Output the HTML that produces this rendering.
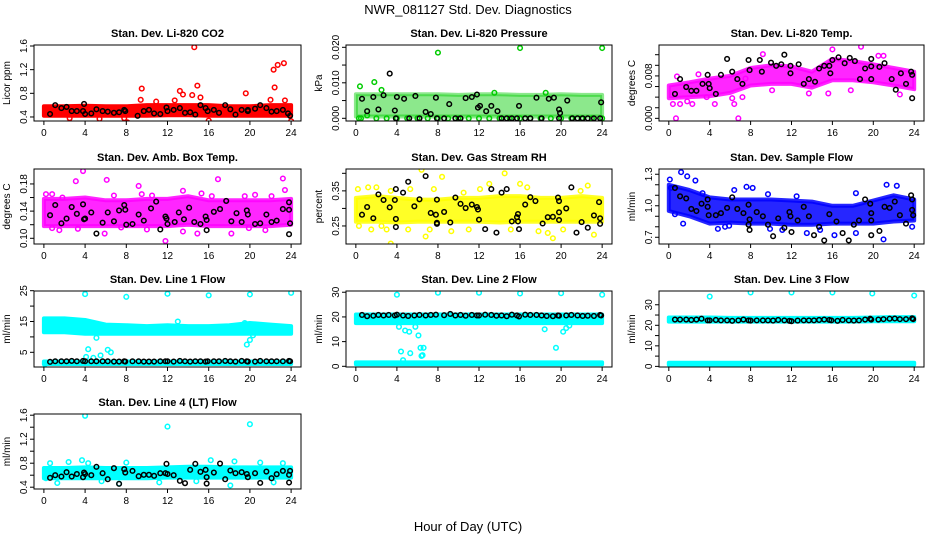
<!DOCTYPE html>
<html><head><meta charset="utf-8">
<style>
html,body{margin:0;padding:0;background:#fff;}
svg{display:block;font-family:"Liberation Sans",sans-serif;}
</style></head>
<body>
<svg id="chart" width="936" height="540" viewBox="0 0 936 540">
<text x="468" y="14" text-anchor="middle" font-size="13">NWR_081127  Std. Dev. Diagnostics</text>
<text x="468" y="531" text-anchor="middle" font-size="13">Hour of Day (UTC)</text>
</svg>
<script>
// ---- data arrays ----
const hours = [0,2,4,6,8,10,12,14,16,18,20,22,24];
const xTicks = [0,4,8,12,16,20,24];

// Panel 1 CO2
const co2BandLo = [0.42,0.42,0.42,0.42,0.42,0.42,0.43,0.43,0.42,0.42,0.42,0.42,0.42];
const co2BandHi = [0.58,0.58,0.59,0.58,0.58,0.60,0.60,0.60,0.60,0.58,0.58,0.60,0.60];
const co2Color = [[14.6,1.58],[22.3,1.2],[22.7,1.28],[23.3,1.31],[22.4,0.9],[14.9,0.93],[9.5,0.88],[13.2,0.84],[13.5,0.78],[19.6,0.8],[14.4,0.77],[15.2,0.73],[9.4,0.69],[12.7,0.68],[22,0.69],[23.4,0.68],[8.1,0.31],[16,0.34],[24,0.33],[7.8,0.38],[10.9,0.66],[0.2,0.5],[2.5,0.38],[5.4,0.37]];
const co2Black = [[0.6,0.45],[1.1,0.6],[1.7,0.55],[2.2,0.57],[2.7,0.5],[3.2,0.5],[3.8,0.5],[3.9,0.62],[4,0.45],[4.6,0.46],[5.1,0.53],[5.7,0.5],[6.2,0.49],[6.8,0.47],[7.3,0.48],[7.8,0.52],[7.9,0.5],[9.1,0.42],[9.7,0.5],[10.2,0.52],[10.7,0.46],[11.3,0.45],[11.9,0.56],[12,0.5],[12.6,0.52],[13.2,0.55],[13.7,0.47],[14.2,0.48],[14.7,0.44],[15.2,0.6],[15.7,0.55],[15.9,0.5],[16.5,0.52],[17,0.47],[17.6,0.6],[18.1,0.53],[18.6,0.44],[19.2,0.52],[19.8,0.5],[19.8,0.52],[20.5,0.54],[21,0.6],[21.6,0.55],[22.1,0.49],[22.6,0.5],[23.2,0.52],[23.7,0.46],[23.9,0.42]];

// Panel 2 Pressure
const prBandLo = [0.0005,0.0005,0.0005,0.0005,0.0005,0.0005,0.0005,0.0005,0.0005,0.0005,0.0005,0.0005,0.0005];
const prBandHi = [0.0068,0.0068,0.0068,0.0068,0.0068,0.0066,0.0068,0.0068,0.0066,0.0066,0.0068,0.0066,0.0066];
const prColor = [[8,0.0185],[16,0.0198],[24,0.0198],[1.8,0.0102],[0.4,0.009],[0.3,0],[0.5,0],[1.1,0.0008],[2,0],[3,0],[4,0],[5,0],[6,0],[7,0],[8,0],[9,0],[10,0],[11,0],[12,0],[13,0],[14,0],[15,0],[16,0],[17,0],[18,0],[19,0],[20,0],[21,0],[22,0],[23,0],[24,0],[2.5,0.008],[13.5,0.0072],[18.5,0.0072]];
const prBlack = [[3.3,0.0126],[0.6,0.0055],[1.1,0.002],[1.7,0.006],[2.2,0.0025],[2.7,0.0065],[3.8,0.0022],[4,0.006],[4.7,0.0055],[5.8,0.0063],[6.8,0.0018],[7.3,0.0012],[7.8,0.0058],[9.1,0.004],[10.7,0.0057],[11.3,0.006],[11.8,0.0067],[11.9,0.003],[12.1,0.0035],[12.7,0.002],[13.2,0.0035],[13.8,0.002],[15.9,0.0035],[17.6,0.0058],[18.8,0.0055],[19.3,0.0058],[19.8,0.0025],[19.9,0.0015],[20.6,0.005],[23.9,0.0045],[3.9,0],[5.2,0],[6.2,0],[7.9,0],[8.6,0],[9.7,0],[10.2,0],[14.2,0],[14.7,0],[15.2,0],[15.7,0],[16.5,0],[17,0],[18.1,0],[19.8,0],[21.1,0],[21.6,0],[22.1,0],[22.6,0],[23.2,0],[23.8,0]];

// Panel 3 Li-820 Temp
const tpBandLo = [0.0038,0.0040,0.0042,0.0048,0.0062,0.0065,0.0065,0.0058,0.0072,0.0072,0.0068,0.0062,0.0055];
const tpBandHi = [0.0062,0.0068,0.0075,0.0080,0.0095,0.0100,0.0098,0.0088,0.0112,0.0108,0.0102,0.0095,0.0088];
const tpColor = [[0.7,0.0],[6.8,0.0],[0.4,0.0027],[4.5,0.0027],[6.4,0.0027],[1.1,0.0027],[18.8,0.0135],[16,0.013],[10.1,0.0053],[17.8,0.0053],[1.8,0.0032],[2.3,0.0027],[3.7,0.004],[6.2,0.0038],[7.2,0.004],[7.5,0.0075],[20.5,0.0118],[21,0.0118],[22.6,0.0045],[13.7,0.0047],[15.6,0.0047],[0.8,0.0079],[2.9,0.0083],[9.2,0.0121]];
const tpBlack = [[0.6,0.0046],[1.1,0.0074],[1.7,0.0059],[2.2,0.0052],[2.7,0.0052],[3.3,0.0065],[3.8,0.0082],[3.9,0.0065],[4,0.0057],[4.6,0.0046],[5.1,0.0082],[5.7,0.0112],[6.2,0.0088],[6.7,0.0074],[7.2,0.0065],[7.8,0.011],[7.9,0.0091],[8.9,0.011],[9.1,0.0088],[10,0.0105],[10.5,0.0099],[11,0.0102],[11.3,0.012],[11.9,0.0099],[11.9,0.0085],[12.7,0.0102],[13.2,0.0065],[13.7,0.0074],[14.3,0.0069],[14.7,0.0094],[15.2,0.0099],[15.7,0.0099],[15.8,0.0085],[16,0.011],[16.6,0.0115],[17.2,0.0104],[17.7,0.0114],[18.2,0.0108],[18.7,0.0074],[19.2,0.0094],[19.8,0.0112],[19.8,0.0098],[19.8,0.0074],[20.6,0.0097],[21.1,0.0104],[21.8,0.0074],[22.2,0.0054],[22.7,0.0085],[23.2,0.0065],[23.7,0.0088],[23.8,0.0082],[23.8,0.0038]];

// Panel 4 Amb. Box Temp
const abBandLo = [0.118,0.118,0.118,0.118,0.118,0.118,0.118,0.12,0.118,0.118,0.118,0.118,0.12];
const abBandHi = [0.158,0.158,0.16,0.156,0.156,0.158,0.158,0.162,0.156,0.156,0.156,0.156,0.158];
const abColor = [[3.8,0.199],[3.1,0.184],[6.1,0.186],[9.2,0.177],[16.9,0.187],[23.2,0.188],[11.8,0.096],[0.2,0.165],[0.8,0.165],[1.8,0.16],[10.5,0.163],[13.5,0.17],[15.3,0.166],[20.5,0.164],[22.1,0.162],[23.4,0.171],[0.8,0.115],[3.3,0.114],[5.9,0.107],[7.5,0.116],[10,0.113],[13.5,0.11],[14.9,0.107],[18.2,0.107],[21.5,0.112],[9.5,0.165],[6.8,0.163],[16.3,0.162],[19.5,0.162],[1.5,0.112],[19.9,0.115]];
const abBlack = [[0.6,0.134],[1.1,0.149],[1.7,0.122],[2.2,0.129],[2.7,0.146],[3.2,0.136],[3.8,0.150],[3.9,0.128],[4,0.129],[4.6,0.138],[5.1,0.107],[5.7,0.123],[6.2,0.138],[6.8,0.125],[7.3,0.141],[7.8,0.149],[7.9,0.142],[8,0.120],[8.6,0.121],[9.2,0.135],[9.7,0.126],[10.4,0.144],[10.9,0.154],[11.3,0.113],[11.8,0.132],[11.9,0.129],[12,0.121],[12.7,0.124],[13.1,0.138],[13.6,0.128],[14.1,0.145],[14.6,0.124],[15.2,0.121],[15.7,0.132],[15.8,0.112],[15.8,0.127],[16.5,0.139],[17.1,0.143],[17.7,0.155],[18.2,0.125],[18.7,0.137],[19.2,0.124],[19.7,0.141],[19.8,0.135],[20.5,0.121],[21,0.122],[21.6,0.135],[22.1,0.124],[22.6,0.126],[23.2,0.143],[23.8,0.153],[23.8,0.142],[23.9,0.122],[23.8,0.106]];

// Panel 5 Gas Stream RH
const rhBandLo = [0.262,0.262,0.26,0.262,0.262,0.262,0.262,0.26,0.262,0.262,0.262,0.262,0.262];
const rhBandHi = [0.33,0.335,0.33,0.325,0.325,0.33,0.33,0.335,0.335,0.33,0.33,0.335,0.33];
const rhColor = [[6.4,0.41],[3.4,0.2],[8.4,0.39],[14.5,0.4],[0.2,0.355],[2,0.36],[6.8,0.22],[19.2,0.215],[23.2,0.225],[16,0.37],[22.6,0.365],[13,0.37],[0.3,0.25],[1.5,0.24],[5.1,0.24],[9.3,0.235],[11,0.24],[17.8,0.235],[18.7,0.23],[3,0.24],[10.5,0.345],[21.9,0.35],[1.2,0.36],[3.4,0.35],[5.3,0.355],[7.6,0.355],[16.7,0.36],[12.1,0.355],[20.2,0.24],[15.1,0.24],[2.5,0.25],[7.2,0.24]];
const rhBlack = [[0.6,0.282],[1.1,0.304],[1.7,0.272],[2.2,0.34],[2.7,0.324],[3.3,0.303],[3.8,0.324],[3.9,0.355],[3.9,0.27],[3.9,0.247],[4.6,0.345],[5.1,0.376],[5.7,0.306],[6.2,0.326],[6.8,0.392],[7.3,0.287],[7.8,0.282],[7.9,0.259],[7.9,0.256],[7.9,0.325],[8.6,0.29],[9.2,0.26],[9.7,0.331],[10.2,0.313],[10.7,0.301],[11.3,0.311],[11.8,0.304],[11.9,0.297],[12,0.268],[12.6,0.241],[13.2,0.355],[13.7,0.231],[14.2,0.345],[14.7,0.355],[15.2,0.263],[15.7,0.275],[15.8,0.284],[15.8,0.263],[15.9,0.241],[16.5,0.311],[17,0.332],[17.5,0.321],[18.2,0.257],[18.7,0.275],[19.2,0.276],[19.7,0.331],[19.8,0.321],[19.8,0.267],[19.8,0.289],[20.5,0.3],[21,0.36],[21.5,0.231],[22,0.261],[22.6,0.245],[23.2,0.28],[23.7,0.318],[23.8,0.272],[23.8,0.256]];

// Panel 6 Sample Flow
const sfBandLo = [0.95,0.9,0.83,0.84,0.83,0.83,0.82,0.82,0.83,0.83,0.83,0.85,0.86];
const sfBandHi = [1.2,1.15,1.08,1.06,1.06,1.06,1.05,1.04,1.0,1.0,1.05,1.1,1.06];
const sfColor = [[1.2,1.32],[0.1,1.25],[1.8,1.28],[2.6,1.24],[7.6,1.18],[8.2,1.17],[21.3,1.2],[22.3,1.19],[0.6,0.92],[1.4,0.83],[4.8,0.78],[21,0.68],[11.1,0.77],[13.5,0.74],[23.8,0.8],[16.2,0.72],[5.5,0.8],[0.2,1.17],[3.3,1.12],[6.4,1.15],[9.7,1.11],[12.5,1.09],[18.3,1.12],[5.9,0.81],[9.9,0.78],[18.3,0.74],[14.8,0.77]];
const sfBlack = [[0.6,1.17],[1.1,1.09],[1.7,1.07],[2.2,0.97],[2.7,0.95],[3.2,1.02],[3.8,1.06],[3.8,0.99],[3.9,0.91],[4.6,0.91],[5.1,0.93],[5.7,0.98],[6.2,1.08],[6.7,0.97],[7.3,0.93],[7.8,1.01],[7.9,0.87],[7.8,0.82],[7.9,0.77],[8.6,0.94],[9.2,0.9],[9.7,0.82],[10.2,0.71],[10.7,0.88],[11.3,0.79],[11.8,0.94],[11.9,0.9],[12,0.75],[12.6,0.86],[13.2,0.99],[13.7,0.9],[14.2,0.72],[14.7,0.8],[15.2,0.67],[15.7,0.92],[16.4,0.85],[17,0.74],[17.6,0.67],[18.1,0.82],[18.6,0.86],[19.2,1.06],[19.7,1.02],[19.8,0.93],[19.8,0.86],[19.8,0.72],[20.6,0.76],[21.1,0.99],[21.6,0.98],[22.1,1.04],[22.6,0.91],[23.2,0.83],[23.7,1.1],[23.8,1.06],[23.8,0.96],[23.9,0.91]];

// Panel 7 Line 1 Flow
const l1BandLo = [11.5,11.5,11,11,11,11,11,11,11,11,11,11,11];
const l1BandHi = [16,16,15.5,14,13.8,13.5,13.8,13.5,13.5,13.8,14.5,14,13.5];
const l1LineLo = [1.2,1.2,1.2,1.2,1.2,1.2,1.2,1.2,1.2,1.2,1.2,1.2,1.2];
const l1LineHi = [2,2,2,2,2,2,2,2,2,2,2,2,2];
const l1Color = [[4,23.9],[8,23],[12,24],[16,23.5],[20,23.8],[24,24.3],[4.3,6],[6.2,5.8],[6.5,5],[4.1,3.5],[4.8,3.2],[5.5,4],[19.7,7.5],[20,9],[20.3,10.5],[5.1,9.7],[0.1,1.2],[13,15],[19.5,14.5]];
const l1Black = [[0.6,1.9],[1.1,2.1],[1.7,2.1],[2.2,2.1],[2.7,2.2],[3.2,2.1],[3.8,2.2],[4,2.1],[4.6,2.1],[5.1,2.1],[5.7,2.1],[6.2,2.1],[6.8,2.0],[7.3,2.0],[7.8,2.1],[7.9,2.0],[8.6,2.1],[9.2,2.1],[9.7,2.0],[10.2,2.0],[10.7,2.0],[11.3,2.1],[11.8,2.1],[12,2.1],[12.6,2.0],[13.2,2.2],[13.7,2.1],[14.2,2.0],[14.7,2.1],[15.2,2.1],[15.7,2.0],[15.9,2.1],[16.5,2.1],[17,2.1],[17.6,2.2],[18.1,2.1],[18.6,2.0],[19.2,2.2],[19.7,2.1],[19.8,2.0],[20.5,2.0],[21,2.2],[21.6,2.1],[22.1,2.1],[22.6,2.1],[23.2,2.1],[23.8,2.2],[23.9,2.1]];

// Panel 8 Line 2 Flow
const l2BandLo = [17.5,17.5,17.5,17.5,17.5,17.5,17.5,17.5,17.5,17.5,17.5,17.5,17.5];
const l2BandHi = [21,21,21,21,21,21,21,21,21,21,21,21,21];
const l2LineLo = [0.8,0.8,0.8,0.8,0.8,0.8,0.8,0.8,0.8,0.8,0.8,0.8,0.8];
const l2LineHi = [1.6,1.6,1.6,1.6,1.6,1.6,1.6,1.6,1.6,1.6,1.6,1.6,1.6];
const l2Color = [[4,29],[8,29.8],[12,29.8],[16,29.5],[20,29.6],[24,29],[4.2,16],[4.8,14.5],[5.2,14],[5.8,16],[6.1,12.5],[6.3,7.5],[6.5,4.5],[4.4,6],[5.3,5.3],[4.6,2.5],[18.4,15],[19.5,7.5],[20.2,14],[20.5,15.5],[20.8,16.5],[4.1,18.5],[4.6,18.8],[6.6,7.5],[6.4,4.2]];
const l2Black = [[0.6,20.8],[1.1,20.3],[1.7,20.5],[2.2,20.8],[2.7,20.6],[3.2,20.8],[3.8,20.6],[4,20.9],[4.6,20.6],[5.1,20.4],[5.7,20.6],[6.2,20.8],[6.8,20.6],[7.3,20.8],[7.8,20.9],[8.6,20.7],[9.2,21.2],[9.7,20.6],[10.2,20.8],[10.7,20.5],[11.3,20.8],[11.8,20.6],[12,20.6],[12.6,20.9],[13.2,20.8],[13.7,20.5],[14.2,20.6],[14.7,20.3],[15.2,20.9],[15.7,20.6],[15.9,20.2],[16.5,20.9],[17,20.8],[17.6,20.8],[18.1,20.6],[18.6,20.4],[19.2,20.3],[19.7,20.6],[19.8,20.5],[20.5,20.6],[21,20.8],[21.6,20.6],[22.1,20.4],[22.6,20.5],[23.2,20.4],[23.8,20.8],[23.9,20.6]];

// Panel 9 Line 3 Flow
const l3BandLo = [21.8,21.8,21.8,21.8,21.8,21.8,21.8,21.8,21.8,21.8,22,22,22];
const l3BandHi = [23.8,23.8,23.8,23.6,23.6,23.6,23.6,23.6,23.6,23.6,23.8,24,24];
const l3LineLo = [0.8,0.8,0.8,0.8,0.8,0.8,0.8,0.8,0.8,0.8,0.8,0.8,0.8];
const l3LineHi = [1.8,1.8,1.8,1.8,1.8,1.8,1.8,1.8,1.8,1.8,1.8,1.8,1.8];
const l3Color = [[4,34],[8,36],[12,36],[16,36],[19.9,35.5],[24,34.5]];
const l3Black = [[0.6,22.8],[1.1,22.8],[1.7,22.8],[2.2,22.6],[2.7,22.8],[3.2,23.2],[3.8,22.4],[4,22.4],[4.6,22.6],[5.1,22.4],[5.7,22.4],[6.2,22.2],[6.8,22.4],[7.3,22.8],[7.8,22.4],[8,22.3],[8.6,22.4],[9.2,22.4],[9.7,22.4],[10.2,22.3],[10.7,22.6],[11.3,22.4],[11.8,22.2],[12,22],[12.6,22.3],[13.2,22.4],[13.7,22.4],[14.2,22.4],[14.7,22.6],[15.2,22.8],[15.7,22.6],[15.9,22.4],[16.5,22.2],[17,22.6],[17.6,22.4],[18.1,22.3],[18.6,22.4],[19.2,22.8],[19.7,23.2],[19.8,22.8],[20.5,22.8],[21,23],[21.6,23.2],[22.1,23.3],[22.6,23],[23.2,23],[23.8,23.4],[23.9,23]];

// Panel 10 Line 4 (LT) Flow
const l4BandLo = [0.55,0.55,0.55,0.55,0.55,0.55,0.56,0.56,0.56,0.56,0.56,0.56,0.56];
const l4BandHi = [0.72,0.72,0.73,0.72,0.72,0.72,0.73,0.74,0.74,0.73,0.73,0.73,0.73];
const l4Color = [[4,1.59],[12,1.41],[20,1.45],[3.7,0.85],[16.2,0.85],[18.5,0.83],[18.1,0.43],[1.3,0.47],[7.3,0.46],[0.6,0.8],[2.4,0.82],[8,0.81],[21,0.81],[23.2,0.8],[0.2,0.55],[4.3,0.8],[5.6,0.5],[11.2,0.48],[14.8,0.5],[22.3,0.48]];
const l4Black = [[0.6,0.556],[1.1,0.6],[1.7,0.578],[2.2,0.65],[2.7,0.578],[3.2,0.62],[3.8,0.567],[3.9,0.644],[4,0.62],[4.6,0.6],[5.1,0.739],[5.7,0.633],[6.2,0.533],[6.8,0.717],[7.3,0.456],[7.8,0.7],[7.9,0.644],[8.6,0.672],[9.2,0.583],[9.7,0.606],[10.2,0.606],[10.7,0.589],[11.3,0.633],[11.8,0.633],[11.9,0.789],[12,0.62],[12.6,0.6],[13.2,0.506],[13.7,0.467],[14.2,0.689],[14.7,0.789],[15.2,0.656],[15.7,0.689],[15.8,0.567],[15.8,0.461],[16.5,0.644],[17.1,0.794],[17.6,0.533],[18.1,0.678],[18.6,0.633],[19.2,0.65],[19.7,0.62],[19.8,0.567],[20.5,0.633],[21,0.472],[21.6,0.661],[22.1,0.55],[22.6,0.617],[23.2,0.672],[23.8,0.478],[23.8,0.606],[23.9,0.672]];

// y tick values & labels
const co2Ticks=[0.4,0.8,1.2,1.6], co2Labels=["0.4","0.8","1.2","1.6"];
const prTicks=[0,0.005,0.01,0.015,0.02], prLabels=["0.000","","0.010","","0.020"];
const tpTicks=[0,0.002,0.004,0.006,0.008,0.010,0.012], tpLabels=["0.000","","","","0.008","",""];
const abTicks=[0.10,0.12,0.14,0.16,0.18], abLabels=["0.10","","0.14","","0.18"];
const rhTicks=[0.25,0.30,0.35,0.40], rhLabels=["0.25","","0.35",""];
const sfTicks=[0.7,0.8,0.9,1.0,1.1,1.2,1.3], sfLabels=["0.7","","","1.0","","","1.3"];
const l1Ticks=[5,10,15,20,25], l1Labels=["5","","15","","25"];
const l2Ticks=[0,10,20,30], l2Labels=["0","10","20","30"];
const l3Ticks=[0,5,10,15,20,25,30], l3Labels=["0","","10","","20","","30"];
const l4Ticks=[0.4,0.6,0.8,1.0,1.2,1.4,1.6], l4Labels=["0.4","","0.8","","1.2","","1.6"];

// ---- layout / drawing ----
const NS="http://www.w3.org/2000/svg";
const svg=document.getElementById('chart');
function mk(tag,attrs,parent){const e=document.createElementNS(NS,tag);for(const k in attrs)e.setAttribute(k,attrs[k]);(parent||svg).appendChild(e);return e;}
const cols=[[34,301],[346,612],[659,924]];
const rows=[[45,121],[169,244],[291,367],[414,489]];

function panel(o){
  const [x0,x1]=cols[o.c],[y0,y1]=rows[o.r];
  const g=mk('g',{});
  
  
  const xs=h=>x0+(h+0.96)/25.92*(x1-x0);
  const ys=v=>y1-(v-o.ymin)/(o.ymax-o.ymin)*(y1-y0);
  const cp='cp'+o.name;
  const clip=mk('clipPath',{id:cp},g);mk('rect',{x:x0,y:y0,width:x1-x0,height:y1-y0},clip);
  const pg=mk('g',{'clip-path':'url(#'+cp+')'},g);
  function band(lo,hi,col,op,nm){
    let d='';hours.forEach((h,i)=>{d+=(i?'L':'M')+xs(h).toFixed(1)+','+ys(hi[i]).toFixed(1);});
    for(let i=hours.length-1;i>=0;i--)d+='L'+xs(hours[i]).toFixed(1)+','+ys(lo[i]).toFixed(1);
    const p=mk('path',{d:d+'Z',fill:col,'fill-opacity':op,stroke:col,'stroke-width':4,'stroke-opacity':op,'stroke-linejoin':'round'},pg);
    
    
  }
  band(o.lo,o.hi,o.color,o.op||1,o.name+'-band');
  if(o.lo2)band(o.lo2,o.hi2,o.color,1,o.name+'-low-band');
  o.pts.forEach(p=>{const c=mk('circle',{cx:xs(p[0]),cy:ys(p[1]),r:2.3,fill:'none',stroke:o.color,'stroke-width':1.5},pg);
    
    });
  o.blk.forEach(p=>{const c=mk('circle',{cx:xs(p[0]),cy:ys(p[1]),r:2.3,fill:'none',stroke:'#000','stroke-width':1.5},pg);
    
    });
  mk('rect',{x:x0,y:y0,width:x1-x0,height:y1-y0,fill:'none',stroke:'#000','stroke-width':1},g);
  mk('line',{x1:xs(0),x2:xs(24),y1:y1,y2:y1,stroke:'#000'},g);
  xTicks.forEach(t=>{mk('line',{x1:xs(t),x2:xs(t),y1:y1,y2:y1+4,stroke:'#000'},g);
    const tx=mk('text',{x:xs(t),y:y1+15,'text-anchor':'middle','font-size':10},g);tx.textContent=t;
    
    });
  const yt=o.ticks;
  mk('line',{x1:x0,x2:x0,y1:ys(yt[0]),y2:ys(yt[yt.length-1]),stroke:'#000'},g);
  yt.forEach((t,i)=>{const y=ys(t);mk('line',{x1:x0-4,x2:x0,y1:y,y2:y,stroke:'#000'},g);
    if(o.labels[i]){const tx=mk('text',{x:x0-7,y:y,'text-anchor':'middle','font-size':10,transform:'rotate(-90 '+(x0-7)+' '+y+')'},g);tx.textContent=o.labels[i];
    
    }});
  const yl=mk('text',{x:x0-24,y:(y0+y1)/2,'text-anchor':'middle','font-size':10,transform:'rotate(-90 '+(x0-24)+' '+((y0+y1)/2)+')'},g);yl.textContent=o.ylab;
  
  
  const ti=mk('text',{x:(x0+x1)/2,y:y0-8,'text-anchor':'middle','font-size':11,'font-weight':'bold'},g);ti.textContent=o.title;
  
  
}
panel({name:'co2',c:0,r:0,ymin:0.332,ymax:1.617,color:'#ff0000',lo:co2BandLo,hi:co2BandHi,pts:co2Color,blk:co2Black,ticks:co2Ticks,labels:co2Labels,ylab:'Licor ppm',title:'Stan. Dev. Li-820 CO2'});
panel({name:'pressure',c:1,r:0,ymin:-0.00076,ymax:0.02065,color:'#00cc00',op:0.45,lo:prBandLo,hi:prBandHi,pts:prColor,blk:prBlack,ticks:prTicks,labels:prLabels,ylab:'kPa',title:'Stan. Dev. Li-820 Pressure'});
panel({name:'li820-temp',c:2,r:0,ymin:-0.0005,ymax:0.01383,color:'#ff00ff',op:0.85,lo:tpBandLo,hi:tpBandHi,pts:tpColor,blk:tpBlack,ticks:tpTicks,labels:tpLabels,ylab:'degrees C',title:'Stan. Dev. Li-820 Temp.'});
panel({name:'amb-box-temp',c:0,r:1,ymin:0.0916,ymax:0.202,color:'#ff00ff',op:0.85,lo:abBandLo,hi:abBandHi,pts:abColor,blk:abBlack,ticks:abTicks,labels:abLabels,ylab:'degrees C',title:'Stan. Dev. Amb. Box Temp.'});
panel({name:'gas-rh',c:1,r:1,ymin:0.1986,ymax:0.4123,color:'#ffff00',op:0.85,lo:rhBandLo,hi:rhBandHi,pts:rhColor,blk:rhBlack,ticks:rhTicks,labels:rhLabels,ylab:'percent',title:'Stan. Dev. Gas Stream RH'});
panel({name:'sample-flow',c:2,r:1,ymin:0.636,ymax:1.35,color:'#0000ff',op:0.85,lo:sfBandLo,hi:sfBandHi,pts:sfColor,blk:sfBlack,ticks:sfTicks,labels:sfLabels,ylab:'ml/min',title:'Stan. Dev. Sample Flow'});
panel({name:'line1',c:0,r:2,ymin:0.23,ymax:24.9,color:'#00ffff',lo:l1BandLo,hi:l1BandHi,lo2:l1LineLo,hi2:l1LineHi,pts:l1Color,blk:l1Black,ticks:l1Ticks,labels:l1Labels,ylab:'ml/min',title:'Stan. Dev. Line 1 Flow'});
panel({name:'line2',c:1,r:2,ymin:-0.28,ymax:30.5,color:'#00ffff',lo:l2BandLo,hi:l2BandHi,lo2:l2LineLo,hi2:l2LineHi,pts:l2Color,blk:l2Black,ticks:l2Ticks,labels:l2Labels,ylab:'ml/min',title:'Stan. Dev. Line 2 Flow'});
panel({name:'line3',c:2,r:2,ymin:-0.3,ymax:36.7,color:'#00ffff',lo:l3BandLo,hi:l3BandHi,lo2:l3LineLo,hi2:l3LineHi,pts:l3Color,blk:l3Black,ticks:l3Ticks,labels:l3Labels,ylab:'ml/min',title:'Stan. Dev. Line 3 Flow'});
panel({name:'line4',c:0,r:3,ymin:0.37,ymax:1.62,color:'#00ffff',lo:l4BandLo,hi:l4BandHi,pts:l4Color,blk:l4Black,ticks:l4Ticks,labels:l4Labels,ylab:'ml/min',title:'Stan. Dev. Line 4 (LT) Flow'});
</script>
</body></html>
